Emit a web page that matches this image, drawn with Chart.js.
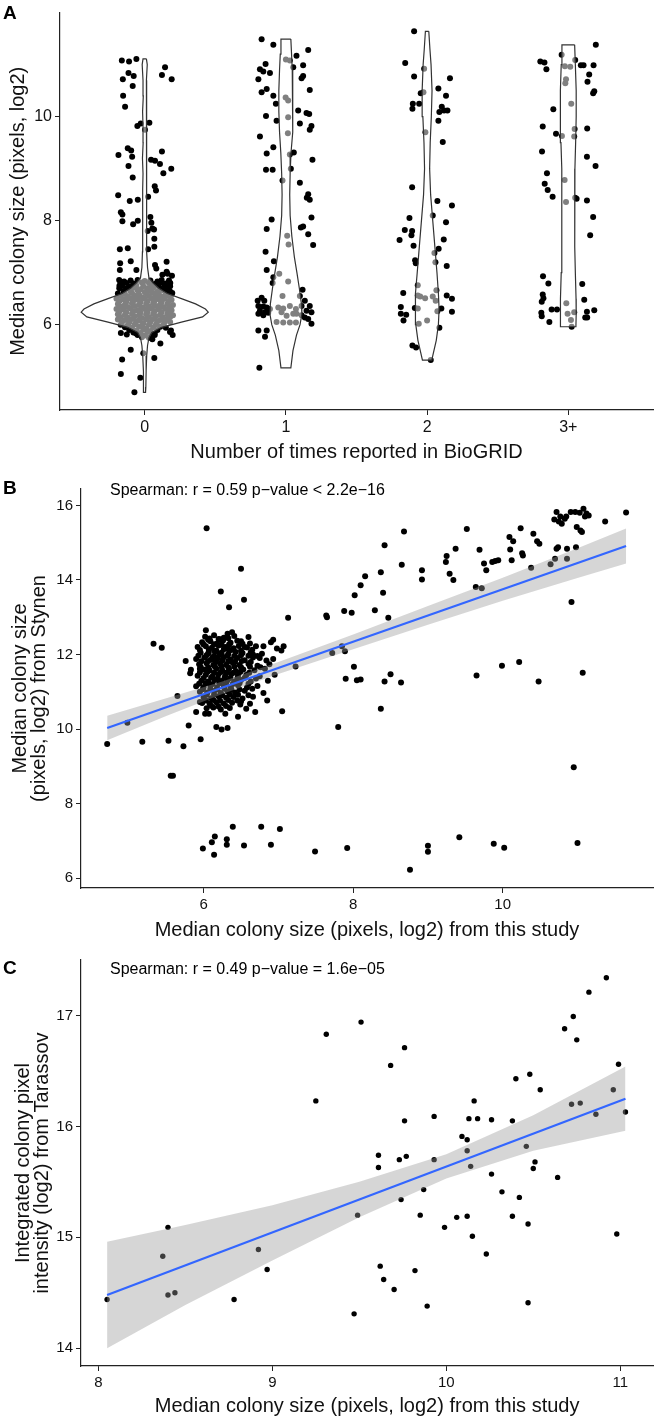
<!DOCTYPE html>
<html lang="en">
<head>
<meta charset="UTF-8" />
<title>Colony size: BioGRID, Stynen, Tarassov</title>
<script src="https://cdn.jsdelivr.net/npm/chart.js"></script>
<style>
  body { margin: 0; background: #fff; font-family: 'Liberation Sans', Arial, sans-serif; color: #000; }
  #wrap { position: relative; width: 656px; height: 1419px; }
  canvas { position: absolute; left: 0; }
  .tag { position: absolute; left: 3px; font-weight: bold; font-size: 19px; line-height: 19px; }
  .note { position: absolute; left: 110px; font-size: 16px; line-height: 16px; white-space: nowrap; }
</style>
</head>
<body>
<div id="wrap">
  <canvas id="chartA" width="656" height="470" style="top:0"></canvas>
  <canvas id="chartB" width="656" height="478" style="top:470px"></canvas>
  <canvas id="chartC" width="656" height="471" style="top:948px"></canvas>
  <div class="tag" style="top:3px">A</div>
  <div class="tag" style="top:478px">B</div>
  <div class="tag" style="top:958px">C</div>
  <div class="note" style="top:482px">Spearman: r = 0.59 p−value &lt; 2.2e−16</div>
  <div class="note" style="top:961px">Spearman: r = 0.49 p−value = 1.6e−05</div>
</div>

<script>
// ---- panel A: times reported in BioGRID ----
const groupLabels = ['0', '1', '2', '3+'];
const yTicksA = [6, 8, 10];
// points: [jitter offset from group centre, median colony size]
const pts0 = [[-0.162,11.08],[-0.111,11.06],[-0.059,11.11],[-0.115,10.84],[-0.078,10.78],[-0.155,10.72],[-0.085,10.59],[0.144,10.95],[0.122,10.80],[0.191,10.72],[-0.153,10.40],[-0.139,10.19],[-0.052,9.82],[-0.028,9.87],[0.033,9.88],[0.002,9.75],[-0.186,9.26],[-0.12,9.39],[-0.096,9.35],[-0.089,9.23],[-0.115,9.05],[0.045,9.17],[0.073,9.15],[0.122,9.33],[0.108,9.09],[0.132,8.91],[0.188,9.0],[-0.085,8.83],[-0.188,8.49],[-0.106,8.38],[-0.049,8.40],[0.071,8.66],[0.08,8.58],[0.024,8.46],[-0.169,8.16],[-0.158,8.12],[-0.158,7.99],[-0.082,7.93],[-0.049,8.0],[0.04,8.07],[0.047,7.96],[0.054,7.85],[0.066,7.83],[0.021,7.80],[0.068,7.65],[-0.176,7.45],[-0.12,7.47],[0.068,7.50],[0.024,7.45],[-0.174,7.18],[-0.099,7.22],[-0.176,7.05],[-0.059,7.05],[-0.181,6.86],[-0.172,6.81],[0.073,7.15],[0.155,7.21],[0.082,7.08],[0.155,7.02],[0.125,6.96],[0.162,6.98],[0.193,6.94],[0.172,6.85],[0.181,6.80],[-0.179,6.75],[-0.146,6.83],[0.195,6.61],[-0.169,5.84],[-0.127,5.81],[-0.061,5.83],[0.071,5.80],[0.179,5.86],[0.198,5.80],[0.186,5.89],[0.054,5.72],[0.111,5.64],[-0.099,5.52],[-0.16,5.33],[0.068,5.36],[-0.169,5.05],[-0.031,4.98],[-0.073,4.70],[-0.01,5.45]];
const pts0Core = [[-0.1,6.85],[-0.05,6.86],[0.0,6.84],[0.04,6.85],[0.09,6.83],[0.12,6.86],[-0.13,6.80],[-0.08,6.79],[-0.02,6.81],[0.03,6.8],[0.07,6.78],[0.11,6.81],[0.15,6.79],[-0.16,6.75],[-0.11,6.74],[-0.06,6.76],[-0.01,6.74],[0.05,6.75],[0.1,6.73],[0.14,6.76],[0.18,6.74],[-0.18,6.7],[-0.13,6.69],[-0.08,6.71],[-0.03,6.68],[0.02,6.7],[0.06,6.71],[0.11,6.69],[0.16,6.7],[-0.15,6.65],[-0.1,6.64],[-0.05,6.66],[0.0,6.63],[0.04,6.65],[0.09,6.64],[0.13,6.66],[0.18,6.64],[-0.19,6.6],[-0.14,6.59],[-0.09,6.61],[-0.04,6.58],[0.01,6.6],[0.06,6.61],[0.1,6.59],[0.15,6.6],[0.19,6.58],[-0.17,6.55],[-0.12,6.54],[-0.07,6.56],[-0.02,6.53],[0.03,6.55],[0.08,6.56],[0.12,6.54],[0.17,6.55],[-0.2,6.5],[-0.15,6.49],[-0.1,6.51],[-0.05,6.48],[0.0,6.5],[0.05,6.51],[0.1,6.49],[0.14,6.5],[0.19,6.48],[-0.18,6.45],[-0.13,6.44],[-0.08,6.46],[-0.03,6.43],[0.02,6.45],[0.07,6.46],[0.12,6.44],[0.17,6.45],[-0.19,6.4],[-0.14,6.39],[-0.09,6.41],[-0.04,6.38],[0.01,6.4],[0.06,6.41],[0.11,6.39],[0.16,6.4],[0.2,6.38],[-0.17,6.35],[-0.12,6.34],[-0.07,6.36],[-0.02,6.33],[0.03,6.35],[0.08,6.36],[0.13,6.34],[0.18,6.35],[-0.2,6.3],[-0.15,6.29],[-0.1,6.31],[-0.05,6.28],[0.0,6.3],[0.05,6.31],[0.1,6.29],[0.15,6.3],[0.19,6.28],[-0.18,6.25],[-0.13,6.24],[-0.08,6.26],[-0.03,6.23],[0.02,6.25],[0.07,6.26],[0.12,6.24],[0.17,6.25],[-0.19,6.2],[-0.14,6.19],[-0.09,6.21],[-0.04,6.18],[0.01,6.2],[0.06,6.21],[0.11,6.19],[0.16,6.2],[0.2,6.18],[-0.17,6.15],[-0.12,6.14],[-0.07,6.16],[-0.02,6.13],[0.03,6.15],[0.08,6.16],[0.13,6.14],[0.18,6.15],[-0.19,6.1],[-0.14,6.09],[-0.09,6.11],[-0.04,6.08],[0.01,6.1],[0.06,6.11],[0.11,6.09],[0.16,6.1],[-0.16,6.05],[-0.11,6.04],[-0.06,6.06],[-0.01,6.03],[0.04,6.05],[0.09,6.06],[0.14,6.04],[0.18,6.05],[-0.17,6.0],[-0.12,5.99],[-0.07,6.01],[-0.02,5.98],[0.03,6.0],[0.08,6.01],[0.13,5.99],[-0.14,5.95],[-0.09,5.94],[-0.04,5.96],[0.01,5.93],[0.06,5.95],[0.11,5.96],[0.15,5.94],[-0.11,5.9],[-0.06,5.89],[-0.01,5.91],[0.04,5.88],[0.09,5.9],[-0.08,5.85],[-0.03,5.84],[0.02,5.86],[0.07,5.83],[-0.05,5.8],[0.0,5.79],[0.05,5.81],[-0.02,5.76],[0.03,5.75]];
const pts1 = [[-0.172,11.49],[-0.089,11.38],[0.075,11.17],[0.158,11.28],[-0.144,11.01],[-0.184,10.91],[-0.16,10.87],[-0.113,10.84],[-0.195,10.72],[0.122,10.99],[0.122,10.78],[0.111,10.74],[0.169,10.51],[-0.172,10.47],[-0.136,10.53],[-0.089,10.40],[-0.071,10.25],[0.0,11.10],[0.052,10.95],[0.028,11.08],[-0.002,10.37],[0.016,10.31],[-0.141,10.01],[-0.066,9.92],[0.016,9.99],[0.087,10.12],[0.146,10.07],[0.165,10.05],[0.099,9.87],[0.181,9.82],[0.169,9.75],[0.014,9.68],[-0.184,9.62],[-0.089,9.41],[-0.136,9.29],[0.056,9.31],[0.028,9.27],[0.188,9.17],[-0.141,8.98],[-0.094,8.98],[0.035,9.0],[-0.024,8.77],[0.099,8.73],[0.158,8.51],[0.169,8.40],[0.148,8.44],[0.181,8.06],[-0.101,8.02],[-0.136,7.84],[0.122,7.89],[0.106,7.87],[0.158,7.74],[0.193,7.53],[0.009,7.71],[0.019,7.54],[-0.144,7.40],[-0.085,7.22],[-0.136,7.05],[-0.089,6.91],[-0.047,6.98],[0.016,6.83],[-0.094,6.80],[0.118,6.67],[-0.024,6.55],[-0.172,6.52],[-0.2,6.46],[-0.153,6.46],[-0.195,6.36],[-0.16,6.35],[-0.136,6.33],[-0.184,6.27],[-0.148,6.24],[-0.113,6.30],[-0.195,6.21],[-0.16,6.18],[-0.125,6.23],[0.099,6.55],[0.134,6.46],[0.111,6.36],[0.169,6.36],[0.146,6.27],[0.181,6.24],[0.111,6.18],[0.134,6.14],[0.181,6.02],[0.158,6.11],[0.075,6.21],[-0.054,6.33],[-0.019,6.31],[0.028,6.36],[0.071,6.30],[0.052,6.21],[-0.031,6.24],[-0.066,6.05],[-0.019,6.04],[0.028,6.04],[0.071,6.04],[0.005,6.17],[-0.195,5.89],[-0.136,5.89],[-0.148,5.77],[-0.188,5.17]];
const pts2 = [[-0.092,11.64],[-0.155,11.03],[-0.021,10.92],[-0.092,10.77],[0.162,10.74],[-0.026,10.47],[-0.045,10.45],[0.08,10.54],[0.134,10.40],[-0.101,10.25],[-0.056,10.25],[-0.104,10.15],[0.104,10.19],[0.12,10.12],[0.087,10.09],[0.144,10.12],[0.08,9.92],[-0.012,9.70],[0.111,9.51],[-0.106,8.64],[0.073,8.38],[0.176,8.29],[0.04,8.10],[-0.125,8.05],[0.134,7.97],[-0.158,7.82],[-0.106,7.80],[-0.111,7.72],[-0.195,7.63],[0.118,7.64],[-0.096,7.52],[0.082,7.46],[0.052,7.38],[0.059,7.20],[-0.085,7.24],[-0.08,7.18],[0.139,7.13],[-0.066,6.76],[-0.169,6.61],[-0.066,6.56],[-0.049,6.54],[-0.014,6.51],[0.066,6.66],[0.04,6.54],[0.061,6.46],[0.139,6.56],[0.176,6.50],[-0.186,6.34],[-0.087,6.32],[-0.066,6.31],[0.073,6.26],[0.101,6.31],[0.176,6.25],[-0.186,6.21],[-0.148,6.19],[-0.167,6.08],[-0.059,6.02],[0.0,6.08],[0.087,5.94],[-0.104,5.60],[-0.078,5.56],[0.026,5.32]];
const pts3 = [[0.195,11.38],[-0.047,11.19],[0.049,11.09],[-0.198,11.06],[-0.169,11.04],[-0.155,10.91],[-0.024,10.97],[0.014,10.96],[0.089,10.99],[0.108,10.99],[0.179,10.99],[0.148,10.81],[-0.016,10.72],[-0.021,10.64],[0.136,10.67],[0.184,10.49],[0.176,10.45],[0.021,10.25],[-0.106,10.14],[-0.181,9.81],[-0.087,9.67],[-0.045,9.63],[0.045,9.76],[0.042,9.62],[0.134,9.77],[-0.186,9.33],[0.132,9.23],[0.193,9.05],[-0.151,8.91],[-0.167,8.71],[-0.146,8.59],[-0.111,8.46],[-0.026,8.78],[-0.016,8.36],[0.049,8.44],[0.059,8.42],[0.132,8.39],[0.176,8.07],[0.155,7.72],[-0.179,6.93],[-0.141,6.79],[0.099,6.78],[-0.181,6.58],[-0.176,6.51],[-0.188,6.44],[0.113,6.48],[-0.014,6.41],[-0.118,6.29],[-0.08,6.29],[-0.191,6.23],[-0.188,6.16],[-0.005,6.21],[0.042,6.24],[0.019,6.09],[-0.134,6.05],[0.184,6.28],[0.132,6.25],[0.12,6.14],[0.134,6.14],[0.024,5.96]];
// violin outlines, top to bottom: value and half width in group units
const vio0Y = [11.11,11.0,10.7,10.4,10.1,9.8,9.5,9.2,8.9,8.6,8.3,8.0,7.7,7.4,7.1,6.9,6.8,6.7,6.6,6.5,6.4,6.3,6.24,6.15,6.05,5.95,5.85,5.75,5.6,5.4,5.1,4.8,4.70];
const vio0W = [0.012,0.018,0.012,0.01,0.015,0.012,0.011,0.016,0.012,0.014,0.016,0.014,0.014,0.016,0.02,0.03,0.06,0.1,0.16,0.26,0.36,0.43,0.45,0.41,0.26,0.12,0.05,0.03,0.02,0.014,0.01,0.008,0.006];
const vio1Y = [11.49,11.2,10.9,10.5,10.1,9.7,9.3,8.9,8.5,8.1,7.7,7.3,7.0,6.7,6.4,6.2,6.0,5.8,5.5,5.17];
const vio1W = [0.035,0.04,0.045,0.05,0.05,0.045,0.036,0.03,0.027,0.03,0.042,0.06,0.078,0.095,0.11,0.113,0.1,0.075,0.05,0.035];
const vio2Y = [11.64,11.3,11.0,10.5,10.0,9.5,9.0,8.5,8.0,7.5,7.0,6.6,6.3,6.0,5.7,5.32];
const vio2W = [0.012,0.02,0.028,0.035,0.03,0.022,0.018,0.025,0.04,0.055,0.07,0.08,0.085,0.08,0.065,0.033];
const vio3Y = [11.38,11.0,10.5,10.0,9.5,9.0,8.5,8.0,7.5,7.0,6.5,6.2,5.96];
const vio3W = [0.045,0.05,0.056,0.056,0.052,0.047,0.045,0.045,0.047,0.05,0.055,0.056,0.054];

// ---- panel B: this study vs Stynen ----
const xTicksB = [6, 8, 10];
const yTicksB = [6, 8, 10, 12, 14, 16];
const ptsB = [[6.04,15.39],[6.50,14.30],[6.23,13.69],[6.54,13.47],[6.34,13.27],[7.13,12.99],[7.64,13.05],[7.65,13.0],[6.03,12.65],[6.06,12.40],[6.20,12.42],[6.32,12.56],[6.38,12.60],[6.50,12.36],[6.55,12.20],[5.33,12.29],[5.44,12.18],[6.93,12.40],[6.80,12.22],[7.07,12.22],[7.04,12.11],[5.76,11.83],[5.83,11.59],[5.82,11.50],[5.95,11.62],[6.07,12.07],[6.12,11.93],[6.21,12.02],[6.32,12.16],[6.66,12.0],[6.75,11.91],[6.84,11.84],[7.23,11.68],[5.65,10.89],[5.95,10.73],
  [4.71,9.60],[4.98,10.17],[5.18,9.66],[5.53,9.69],[5.56,8.75],[5.59,8.75],[5.73,9.54],[5.80,10.10],[5.96,9.73],[5.90,10.46],[6.02,10.41],[6.07,10.41],[6.17,10.06],[6.24,9.99],[6.32,10.03],[6.29,10.41],[6.46,10.33],[6.49,10.66],[6.69,10.46],[6.85,10.77],[7.05,10.48],[7.80,10.06],[8.37,10.55],[10.95,8.98],[11.0,6.95],[5.99,6.80],[6.11,6.97],[6.15,7.12],[6.14,6.63],[6.31,7.05],[6.31,6.90],[6.39,7.38],[6.54,6.88],[6.77,7.38],[6.90,6.90],[7.02,7.32],[7.49,6.72],[7.92,6.81],[8.76,6.23],[9.0,6.87],[9.0,6.71],[9.42,7.10],[9.88,6.93],[10.02,6.82],
  [10.72,15.82],[10.91,15.82],[10.97,15.82],[11.03,15.80],[11.08,15.91],[11.12,15.78],[11.15,15.73],[11.10,15.70],[10.69,15.62],[10.75,15.57],[10.79,15.51],[10.83,15.64],[10.85,15.70],[10.77,15.70],[10.99,15.42],[11.04,15.33],[11.06,15.29],[11.37,15.57],[11.65,15.81],[10.72,14.84],[10.74,14.88],[10.86,14.84],[10.98,14.88],[10.64,14.42],[10.70,14.57],[10.86,14.57],[10.38,14.33],[10.41,15.24],[10.46,15.04],[10.49,14.97],[10.24,15.39],[10.09,15.15],[10.14,15.04],[10.10,14.82],[10.12,14.53],[10.26,14.72],[10.27,14.66],[9.86,14.48],[9.90,14.51],[9.94,14.53],[9.75,14.44],[9.78,14.26],[9.69,14.81],[9.52,15.37],[9.64,13.81],[9.72,13.78],[9.37,14.84],[9.25,14.64],[9.24,14.48],[9.29,14.17],[9.34,14.00],[8.92,14.26],[8.92,14.01],[8.68,15.30],[8.65,14.41],[8.42,14.93],[8.37,14.21],[8.40,13.66],[8.16,14.10],[8.10,13.86],[8.02,13.59],[8.29,13.19],[8.47,12.99],[7.88,13.17],[7.98,13.12],[7.72,12.04],[7.89,12.09],[7.85,12.22],[8.01,11.67],[7.90,11.35],[8.05,11.31],[8.10,11.33],[8.42,11.28],[8.50,11.47],[8.64,11.25],[9.65,11.44],[9.99,11.70],[10.22,11.80],[10.48,11.28],[10.92,13.41],[11.07,11.51]];
const ptsBCore = [[6.02,12.48],[6.14,12.52],[6.27,12.45],[6.41,12.5],[6.6,12.47],[5.98,12.33],[6.09,12.36],[6.18,12.3],[6.26,12.38],[6.36,12.32],[6.45,12.37],[6.62,12.3],[6.9,12.33],[5.92,12.2],[6.03,12.22],[6.11,12.18],[6.2,12.24],[6.29,12.2],[6.4,12.17],[6.47,12.23],[6.58,12.19],[6.7,12.22],[6.98,12.16],[5.96,12.05],[6.06,12.03],[6.15,12.08],[6.24,12.05],[6.33,12.02],[6.43,12.07],[6.52,12.04],[6.63,12.06],[6.78,12.02],[5.9,11.88],[6.01,11.92],[6.1,11.86],[6.19,11.9],[6.27,11.93],[6.36,11.87],[6.45,11.91],[6.55,11.85],[6.66,11.92],[6.93,11.88],[5.94,11.74],[6.04,11.77],[6.13,11.72],[6.22,11.76],[6.3,11.73],[6.39,11.78],[6.48,11.72],[6.6,11.75],[6.72,11.7],[6.88,11.74],[6.0,11.6],[6.08,11.57],[6.17,11.62],[6.25,11.58],[6.34,11.61],[6.43,11.56],[6.53,11.6],[6.68,11.58],[6.82,11.62],[5.92,11.43],[6.03,11.46],[6.12,11.42],[6.2,11.47],[6.29,11.44],[6.37,11.48],[6.46,11.43],[6.57,11.45],[6.75,11.42],[6.95,11.46],[5.97,11.3],[6.06,11.28],[6.15,11.32],[6.24,11.29],[6.32,11.31],[6.41,11.27],[6.5,11.32],[6.63,11.28],[6.86,11.3],[5.9,11.15],[6.0,11.13],[6.09,11.17],[6.18,11.12],[6.27,11.16],[6.36,11.14],[6.46,11.18],[6.58,11.12],[6.72,11.16],[5.95,11.0],[6.05,10.98],[6.14,11.02],[6.23,10.97],[6.32,11.01],[6.42,10.98],[6.55,11.03],[6.8,10.97],[6.0,10.85],[6.1,10.83],[6.2,10.88],[6.3,10.84],[6.4,10.86],[6.52,10.82],[6.66,10.87],[5.98,10.7],[6.08,10.68],[6.17,10.72],[6.27,10.69],[6.38,10.71],[6.5,10.74],[6.62,10.68],[6.04,10.56],[6.13,10.58],[6.23,10.53],[6.35,10.57],[6.57,10.55],
  [6.08,12.43],[6.22,12.41],[6.33,12.44],[6.0,12.27],[6.14,12.28],[6.24,12.26],[6.34,12.27],[6.52,12.29],[5.95,12.12],[6.07,12.13],[6.17,12.11],[6.27,12.14],[6.37,12.12],[6.5,12.1],[6.65,12.13],[5.93,11.97],[6.04,11.98],[6.14,11.96],[6.24,11.99],[6.32,11.97],[6.41,11.96],[6.5,11.98],[6.6,11.97],[6.72,11.96],[5.97,11.82],[6.06,11.83],[6.16,11.81],[6.25,11.84],[6.33,11.82],[6.42,11.81],[6.51,11.83],[6.63,11.8],[5.96,11.67],[6.06,11.66],[6.15,11.68],[6.24,11.67],[6.33,11.66],[6.41,11.68],[6.5,11.66],[6.62,11.67],[6.76,11.66],[5.95,11.52],[6.05,11.53],[6.14,11.51],[6.23,11.53],[6.31,11.52],[6.4,11.51],[6.49,11.53],[6.61,11.51],[6.0,11.37],[6.1,11.38],[6.19,11.36],[6.28,11.38],[6.36,11.37],[6.45,11.36],[6.55,11.38],[6.7,11.36],[5.94,11.22],[6.03,11.23],[6.12,11.21],[6.21,11.23],[6.3,11.22],[6.39,11.21],[6.48,11.23],[6.6,11.22],[5.99,11.07],[6.09,11.08],[6.18,11.06],[6.28,11.08],[6.37,11.07],[6.48,11.06],[6.65,11.08],[6.04,10.92],[6.14,10.93],[6.25,10.91],[6.35,10.93],[6.46,10.92],[6.6,10.91],[6.03,10.77],[6.13,10.78],[6.22,10.76],[6.33,10.78],[6.45,10.77],[6.1,10.63],[6.2,10.61],[6.3,10.62]];
const fitXB = [4.71, 11.65];
const fitYB = [10.03, 14.91];
const bandXB = [4.71, 5.5, 6.25, 7, 8, 9, 10, 11, 11.65];
const bandLoB = [9.70, 10.35, 10.94, 11.48, 12.14, 12.80, 13.44, 14.05, 14.44];
const bandHiB = [10.36, 10.83, 11.28, 11.80, 12.54, 13.30, 14.06, 14.85, 15.38];

// ---- panel C: this study vs Tarassov ----
const xTicksC = [8, 9, 10, 11];
const yTicksC = [14, 15, 16, 17];
const ptsC = [[9.31,16.83],[9.25,16.23],[9.51,16.94],[9.68,16.55],[9.76,16.71],[9.76,16.05],[9.61,15.74],[9.73,15.70],[9.77,15.73],[9.61,15.63],[9.93,16.09],[9.93,15.70],[10.09,15.91],[10.12,15.88],[10.12,15.78],[10.14,15.64],[10.16,16.23],[10.13,16.07],[10.18,16.07],[10.26,16.06],[10.38,16.05],[10.40,16.43],[10.48,16.47],[10.54,16.33],[10.46,15.82],[10.51,15.68],[10.50,15.62],[10.68,16.88],[10.73,16.99],[10.75,16.78],[10.82,17.21],[10.92,17.34],[10.99,16.56],[10.96,16.33],[10.72,16.20],[10.77,16.21],[10.86,16.11],[11.03,16.13],
  [8.05,14.44],[8.40,15.09],[8.37,14.83],[8.40,14.48],[8.44,14.50],[8.78,14.44],[8.92,14.89],[8.97,14.71],[9.49,15.20],[9.47,14.31],[9.62,14.74],[9.64,14.62],[9.70,14.53],[9.74,15.34],[9.85,15.20],[9.82,14.70],[9.89,14.38],[9.87,15.43],[9.99,15.09],[10.06,15.18],[10.12,15.19],[10.15,15.01],[10.23,14.85],[10.26,15.57],[10.32,15.41],[10.38,15.19],[10.42,15.36],[10.47,15.12],[10.47,14.41],[10.64,15.54],[10.98,15.03]];
const fitXC = [8.05, 11.03];
const fitYC = [14.48, 16.25];
const bandXC = [8.05, 8.5, 9, 9.5, 10, 10.5, 11.03];
const bandLoC = [14.00, 14.39, 14.79, 15.18, 15.53, 15.78, 15.96];
const bandHiC = [14.96, 15.11, 15.29, 15.50, 15.75, 16.10, 16.54];

Chart.defaults.font.family = "'Liberation Sans', Arial, sans-serif";
Chart.defaults.color = '#000';

const xy = (xs, ys) => xs.map((x, i) => ({ x: x, y: ys[i] }));
const jitter = (pts, centre) => pts.map(p => ({ x: centre + p[0], y: p[1] }));
const pairs = pts => pts.map(p => ({ x: p[0], y: p[1] }));

function violin(ys, ws, centre) {
  const right = ys.map((y, i) => ({ x: centre + ws[i], y: y }));
  const left = ys.map((y, i) => ({ x: centre - ws[i], y: y })).reverse();
  return right.concat(left, [right[0]]);
}

function axis(min, max, ticks, o) {
  return {
    type: 'linear', min: min, max: max,
    afterBuildTicks: s => { s.ticks = ticks.map(v => ({ value: v })); },
    afterFit: o.fit,
    grid: { drawOnChartArea: false, drawTicks: true, tickLength: 5, color: '#222', lineWidth: 1 },
    border: { display: true, color: '#222', width: 1.2 },
    ticks: { font: { size: o.tickSize }, padding: 3, color: '#111', autoSkip: false, maxRotation: 0,
             callback: o.label || (v => String(v)) },
    title: { display: true, text: o.title, color: '#111',
             font: { size: 20, lineHeight: o.lh || 1.2 }, padding: o.pad }
  };
}

function pointSet(data, r) {
  return { data: data, showLine: false, pointRadius: r, pointHoverRadius: r,
           pointBackgroundColor: '#000', pointBorderWidth: 0, order: 5 };
}

function fitSets(fx, fy, bx, lo, hi) {
  return [
    { data: xy(bx, hi), borderWidth: 0, pointRadius: 0, fill: '+1',
      backgroundColor: 'rgba(153,153,153,0.4)', order: 2 },
    { data: xy(bx, lo), borderWidth: 0, pointRadius: 0, fill: false, order: 3 },
    { data: xy(fx, fy), borderColor: '#3366FF', borderWidth: 2.2, pointRadius: 0, fill: false, order: 0 }
  ];
}

const common = {
  responsive: false, animation: false, events: [],
  plugins: { legend: { display: false }, tooltip: { enabled: false } }
};

// panel A
const violinStyle = { borderColor: '#333', borderWidth: 1.2, pointRadius: 0, tension: 0,
                      fill: 'shape', backgroundColor: 'rgba(255,255,255,0.5)', order: 1 };
new Chart(document.getElementById('chartA'), {
  type: 'line',
  data: { datasets: [
    pointSet([].concat(jitter(pts0, 1), jitter(pts0Core, 1), jitter(pts1, 2), jitter(pts2, 3), jitter(pts3, 4)), 3),
    Object.assign({ data: violin(vio0Y, vio0W, 1) }, violinStyle),
    Object.assign({ data: violin(vio1Y, vio1W, 2) }, violinStyle),
    Object.assign({ data: violin(vio2Y, vio2W, 3) }, violinStyle),
    Object.assign({ data: violin(vio3Y, vio3W, 4) }, violinStyle)
  ]},
  options: Object.assign({}, common, {
    layout: { padding: { top: 4, right: 1, left: 0, bottom: 0 } },
    scales: {
      x: axis(0.4, 4.6, [1, 2, 3, 4], { tickSize: 16, title: 'Number of times reported in BioGRID',
           pad: { top: 0, bottom: 6 }, label: v => groupLabels[v - 1], fit: s => { s.height = 60; } }),
      y: axis(4.36, 12.0, yTicksA, { tickSize: 16, title: 'Median colony size (pixels, log2)',
           pad: { top: 6, bottom: 0 }, fit: s => { s.width = 60; } })
    }
  })
});

// panel B
new Chart(document.getElementById('chartB'), {
  type: 'line',
  data: { datasets: [pointSet(pairs(ptsB).concat(pairs(ptsBCore)), 3)].concat(fitSets(fitXB, fitYB, bandXB, bandLoB, bandHiB)) },
  options: Object.assign({}, common, {
    layout: { padding: { top: 19, right: 1, left: 0, bottom: 0 } },
    scales: {
      x: axis(4.36, 12.01, xTicksB, { tickSize: 15, title: 'Median colony size (pixels, log2) from this study',
           pad: { top: 0, bottom: 6 }, fit: s => { s.height = 60; } }),
      y: axis(5.74, 16.44, yTicksB, { tickSize: 15, title: ['Median colony size', '(pixels, log2) from Stynen'],
           lh: 0.95, pad: { top: 10.5, bottom: 0 }, fit: s => { s.width = 81; } })
    }
  })
});

// panel C
new Chart(document.getElementById('chartC'), {
  type: 'line',
  data: { datasets: [pointSet(pairs(ptsC), 2.7)].concat(fitSets(fitXC, fitYC, bandXC, bandLoC, bandHiC)) },
  options: Object.assign({}, common, {
    layout: { padding: { top: 12, right: 1, left: 0, bottom: 0 } },
    scales: {
      x: axis(7.90, 11.19, xTicksC, { tickSize: 15, title: 'Median colony size (pixels, log2) from this study',
           pad: { top: 0, bottom: 1 }, fit: s => { s.height = 53; } }),
      y: axis(13.84, 17.50, yTicksC, { tickSize: 15, title: ['Integrated colony pixel', 'intensity (log2) from Tarassov'],
           lh: 0.95, pad: { top: 13.5, bottom: 0 }, fit: s => { s.width = 81; } })
    }
  })
});
</script>
</body>
</html>
